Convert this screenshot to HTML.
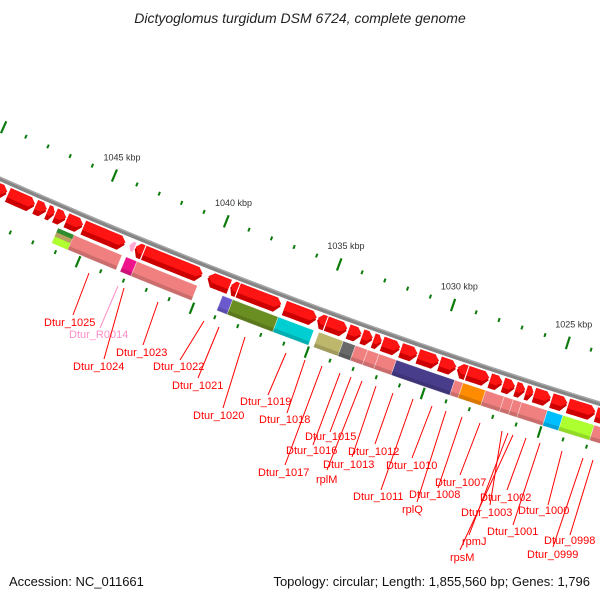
<!DOCTYPE html>
<html><head><meta charset="utf-8"><style>
html,body{margin:0;padding:0;background:#fff;width:600px;height:600px;overflow:hidden;}
svg{display:block;overflow:hidden;}
text{font-family:"Liberation Sans",sans-serif;}
</style></head><body>
<svg id="map" width="600" height="600" viewBox="0 0 600 600">
<text x="300" y="23" text-anchor="middle" font-size="14" font-style="italic" fill="#222">Dictyoglomus turgidum DSM 6724, complete genome</text>
<g id="ticks"></g>
<g id="backbone"></g>
<g id="row1"></g>
<g id="row2"></g>
<g id="labels"></g>
<text x="9" y="586" font-size="13" fill="#111">Accession: NC_011661</text>
<text x="590" y="586" font-size="13" fill="#111" text-anchor="end">Topology: circular; Length: 1,855,560 bp; Genes: 1,796</text>
</svg>
<script>
// ---- data (kbp) ----
const geneStart = [1049.5,1048.72,1047.50,1046.97,1046.62,1046.11,1045.36,1043.08,1042.68,1039.87,1038.87,1038.52,1036.50,1035.07,1034.67,1033.72,1033.12,1032.63,1032.24,1031.44,1030.69,1029.76,1029.01,1028.56,1027.59,1027.02,1026.48,1026.04,1025.69,1024.94,1024.23,1023.03];
const geneEnd   = [1048.76,1047.52,1046.99,1046.64,1046.13,1045.38,1043.50,1042.70,1040.09,1038.89,1038.54,1036.64,1035.09,1034.69,1033.76,1033.14,1032.65,1032.26,1031.46,1030.71,1029.78,1029.03,1028.58,1027.61,1027.04,1026.50,1026.06,1025.71,1024.96,1024.25,1023.05,1021.5];
const geneStrand= [1,1,1,1,1,1,1,-1,1,-1,-1,1,1,-1,1,1,1,1,1,1,1,1,-1,1,1,1,1,1,1,1,1,1];
const rnaStart = [1043.32];
const rnaEnd   = [1043.10];
const cogStart = [1046.28,1045.58,1043.27,1042.79,1039.03,1038.58,1036.59,1034.82,1033.76,1033.23,1032.70,1032.21,1031.46,1028.94,1028.58,1027.61,1026.81,1026.42,1026.06,1024.96,1024.29,1022.96];
const cogEnd   = [1045.58,1043.45,1042.79,1040.13,1038.58,1036.59,1035.04,1033.76,1033.23,1032.70,1032.21,1031.46,1028.94,1028.58,1027.61,1026.81,1026.42,1026.06,1024.96,1024.29,1022.96,1021.5];
const cogColor = ['#8fc43a','#f08080','#f0148c','#f08080','#6a5acd','#6b8e23','#00ced1','#bdb76b','#696969','#f08080','#f08080','#f08080','#483d8b','#f08080','#ff8c00','#f08080','#f08080','#f08080','#f08080','#00bfff','#adff2f','#f08080'];
const tickMin = 1021, tickMax = 1050;
const tickLabelKbp = [1045,1040,1035,1030,1025];
const labelNames = ['Dtur_1025','Dtur_R0014','Dtur_1024','Dtur_1023','Dtur_1022','Dtur_1021','Dtur_1020','Dtur_1019','Dtur_1018','Dtur_1017','Dtur_1016','Dtur_1015','rplM','Dtur_1013','Dtur_1012','Dtur_1011','Dtur_1010','rplQ','Dtur_1008','Dtur_1007','Dtur_1003','rpmJ','rpsM','Dtur_1002','Dtur_1001','Dtur_1000','Dtur_0999','Dtur_0998'];
const labelLayout = [
[44,326,89,273,73,315],[69,338,118,286,100,328],[73,370,124,288,104,359],[116,356,158,302,143,345],
[153,370,204,321,180,360],[172,389,219,327,198,378],[193,419,245,337,223,408],[240,405,286,353,268,395],
[259,423,305,360,287,413],[258,476,322,366,285,465],[286,454,340,373,313,445],[305,440,351,377,330,432],
[316,483,362,381,327,470],[323,468,376,386,352,457],[348,455,393,393,375,444],[353,500,413,399,381,490],
[386,469,432,406,412,458],[402,513,446,411,417,502],[409,498,462,417,438,488],[435,486,480,423,460,475],
[461,516,502,431,490,505],[462,545,508,433,469,535],[450,561,513,435,460,550],[480,501,526,438,507,490],
[487,535,540,443,513,525],[518,514,562,451,548,505],[527,558,583,458,553,547],[544,544,593,460,570,535]];

const NS='http://www.w3.org/2000/svg';
const CX=2159, CY=-4667;
function ang(k){return (112.89-(1045-k)*0.2635)*Math.PI/180;}
function pt(k,r){const a=ang(k);return [CX+r*Math.cos(a),CY+r*Math.sin(a)];}
function P(p){return p[0].toFixed(2)+','+p[1].toFixed(2);}
function arcPts(k1,k2,r,n){n=n||8;const out=[];for(let i=0;i<=n;i++){out.push(pt(k1+(k2-k1)*i/n,r));}return out;}
function el(tag,attrs,parent){const e=document.createElementNS(NS,tag);for(const k in attrs)e.setAttribute(k,attrs[k]);parent.appendChild(e);return e;}

// ticks
const tg=document.getElementById('ticks');
for(let k=tickMin;k<=tickMax;k++){
  const major=k%5===0;
  [[5256,5250,5263],[5350,5344,5356]].forEach(function(ring,ri){
    const a=major?pt(k,ring[1]):pt(k,ring[0]-2), b=major?pt(k,ring[2]):pt(k,ring[0]+2);
    const l=el('line',{x1:a[0],y1:a[1],x2:b[0],y2:b[1],stroke:'#0b7a0b','stroke-width':major?2.2:2},tg);
    
    
  });
}
tickLabelKbp.forEach(function(k){
  const p=pt(k,5237);
  const t=el('text',{x:p[0],y:p[1]+3,'text-anchor':'middle','font-size':9,fill:'#333'},tg);
  t.textContent=k+' kbp';
  
  
});

// backbone (visible arc only)
const bb=document.getElementById('backbone');
const bc=el('polyline',{points:arcPts(1051,1020,5305,40).map(P).join(' '),fill:'none',stroke:'#858585','stroke-width':4.5},bb);


const bc2=el('polyline',{points:arcPts(1051,1020,5303.5,40).map(P).join(' '),fill:'none',stroke:'#aaaaaa','stroke-width':1.2},bb);



// arrows
function arrowPts(s,e,strand,r1,r2){
  const len=Math.abs(s-e), head=Math.min(0.22,len*0.5), rm=(r1+r2)/2;
  let pts=[];
  if(strand===1){
    const hb=e+head;
    pts=pts.concat(arcPts(s,hb,r1));pts.push(pt(e,rm));pts=pts.concat(arcPts(hb,s,r2));
  } else {
    const hb=s-head;
    pts.push(pt(s,rm));pts=pts.concat(arcPts(hb,e,r1));pts=pts.concat(arcPts(e,hb,r2));
  }
  return pts.map(P).join(' ');
}
const r1g=document.getElementById('row1');
for(let i=0;i<geneStart.length;i++){
  const s=geneStart[i]-0.015,e=geneEnd[i]+0.015;
  const a=el('polygon',{points:arrowPts(s,e,geneStrand[i],5309,5324),fill:'#cc0000'},r1g);
  
  
  const b=el('polygon',{points:arrowPts(s,e,geneStrand[i],5309,5319),fill:'#ff1414'},r1g);
  
  
}
for(let i=0;i<rnaStart.length;i++){
  const a=el('polygon',{points:arrowPts(rnaStart[i],rnaEnd[i],-1,5310,5320),fill:'#ffa8d0'},r1g);
  
  
}

// cog boxes
const r2g=document.getElementById('row2');
for(let i=0;i<cogStart.length;i++){
  const s=cogStart[i],e=cogEnd[i];
  const pts=arcPts(s,e,5327).concat(arcPts(e,s,5343)).map(P).join(' ');
  const b=el('polygon',{points:pts,fill:cogColor[i],stroke:'#ffffff','stroke-width':0.6,'stroke-opacity':0.6},r2g);
  
  
  const sh=arcPts(s,e,5339).concat(arcPts(e,s,5343)).map(P).join(' ');
  const d=el('polygon',{points:sh,fill:'#000',opacity:0.15},r2g);
  
  
}
(function(){
  const s=cogStart[0],e=cogEnd[0];
  const p1=arcPts(s,e,5327).concat(arcPts(e,s,5331.5)).map(P).join(' ');
  const t=el('polygon',{points:p1,fill:'#2e8b2e'},r2g);
  
  
  const p2=arcPts(s,e,5331.5).concat(arcPts(e,s,5336)).map(P).join(' ');
  const u=el('polygon',{points:p2,fill:'#b8a060'},r2g);
  
  
  const p3=arcPts(s,e,5336).concat(arcPts(e,s,5343)).map(P).join(' ');
  const v=el('polygon',{points:p3,fill:'#b0ff30'},r2g);
  
  
})();

// labels
const lg=document.getElementById('labels');
for(let i=0;i<labelNames.length;i++){
  const L=labelLayout[i];
  const col=labelNames[i].indexOf('R0')>=0?'#ff8ec8':'#ff0000';
  const ln=el('line',{x1:L[2],y1:L[3],x2:L[4],y2:L[5],stroke:col,'stroke-width':1},lg);
  
  
  const t=el('text',{x:L[0],y:L[1],'font-size':11,fill:col},lg);
  t.textContent=labelNames[i];
  
  
}
</script>
</body></html>
